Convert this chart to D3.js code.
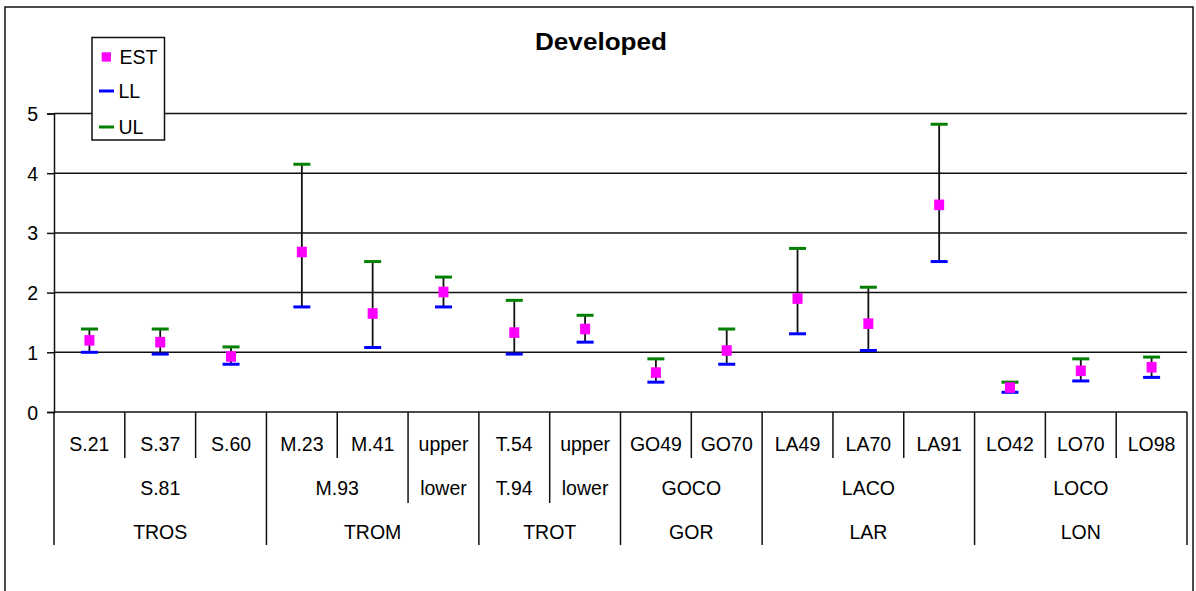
<!DOCTYPE html>
<html><head><meta charset="utf-8">
<script src="https://cdn.jsdelivr.net/npm/d3@7"></script>
<style>body{margin:0;background:#fff;} text{font-family:"Liberation Sans",Arial,sans-serif;}</style>
</head><body>
<svg id="c" width="1196" height="591"></svg>
<script>
const level1 = ["S.21","S.37","S.60","M.23","M.41","upper","T.54","upper","GO49","GO70","LA49","LA70","LA91","LO42","LO70","LO98"];
const level2 = ["S.81","S.81","S.81","M.93","M.93","lower","T.94","lower","GOCO","GOCO","LACO","LACO","LACO","LOCO","LOCO","LOCO"];
const level3 = ["TROS","TROS","TROS","TROM","TROM","TROM","TROT","TROT","GOR","GOR","LAR","LAR","LAR","LON","LON","LON"];
const est = [1.20,1.17,0.93,2.68,1.65,2.01,1.33,1.39,0.66,1.03,1.90,1.48,3.47,0.41,0.69,0.75];
const ll  = [1.00,0.97,0.80,1.76,1.08,1.76,0.97,1.17,0.50,0.80,1.31,1.03,2.52,0.33,0.52,0.58];
const ul  = [1.39,1.39,1.09,4.15,2.52,2.26,1.87,1.62,0.89,1.39,2.74,2.09,4.82,0.50,0.89,0.92];
const yTicks = [0,1,2,3,4,5];
const seriesNames = ["EST","LL","UL"];
const seriesColors = ["#FF00FF","#0000FF","#008000"];

const svg = d3.select("#c");
const L=54, R=1187, T=113.5, B=412;
const keys = level1.map((d,i)=>i);
const x = d3.scaleBand().domain(keys).range([L,R]);
const y = d3.scaleLinear().domain([0,5]).range([B,T]);
const ink = "#111";
const FS = 19.5;

// outer frame
svg.append("rect").attr("x",5).attr("y",7).attr("width",1188).attr("height",600)
  .attr("fill","none").attr("stroke",ink).attr("stroke-width",1.5);

// title
svg.append("text").attr("x",601).attr("y",50).attr("text-anchor","middle")
  .attr("font-size",24).attr("font-weight","bold").attr("fill","#000")
  .attr("textLength",132).attr("lengthAdjust","spacingAndGlyphs").text("Developed");

// gridlines
svg.append("g").selectAll("line").data(yTicks.filter(d=>d>0)).join("line")
  .attr("x1",L).attr("x2",R).attr("y1",d=>y(d)).attr("y2",d=>y(d))
  .attr("stroke",ink).attr("stroke-width",1.5);

// y axis
const ya = svg.append("g").attr("transform",`translate(${L},0)`)
  .call(d3.axisLeft(y).tickValues(yTicks).tickSize(7).tickPadding(9).tickFormat(d3.format("d")));
ya.select(".domain").attr("stroke",ink).attr("stroke-width",1.5);
ya.selectAll(".tick line").attr("stroke",ink).attr("stroke-width",1.5);
ya.selectAll("text").attr("font-size",FS).attr("fill","#000").attr("dy","0.36em")
  .attr("font-family","Liberation Sans, Arial, sans-serif");

// baseline
svg.append("line").attr("x1",L).attr("x2",R).attr("y1",B).attr("y2",B).attr("stroke",ink).attr("stroke-width",1.5);

// category table
const row1=458, row2=503, row3=545;
const tbl = svg.append("g");
const bounds = d3.range(17);
tbl.selectAll("line.sep").data(bounds).join("line")
  .attr("x1",i=>i<16?x(i):R).attr("x2",i=>i<16?x(i):R)
  .attr("y1",B)
  .attr("y2",i=>{
    if(i===0||i===16) return row3;
    if(level3[i]!==level3[i-1]) return row3;
    if(level2[i]!==level2[i-1]) return row2;
    return row1;
  })
  .attr("stroke",ink).attr("stroke-width",1.5);

tbl.selectAll("text.l1").data(keys).join("text")
  .attr("x",i=>x(i)+x.bandwidth()/2).attr("y",451).attr("text-anchor","middle")
  .attr("font-size",FS).attr("fill","#000").text(i=>level1[i]);

function spans(arr){
  const out=[]; let s=0;
  for(let i=1;i<=arr.length;i++){
    if(i===arr.length||arr[i]!==arr[i-1]||level3[i]!==level3[i-1]){out.push({label:arr[s],a:s,b:i-1});s=i;}
  }
  return out;
}
tbl.selectAll("text.l2").data(spans(level2)).join("text")
  .attr("x",d=>(x(d.a)+x(d.b)+x.bandwidth())/2).attr("y",495).attr("text-anchor","middle")
  .attr("font-size",FS).attr("fill","#000").text(d=>d.label);
tbl.selectAll("text.l3").data(spans(level3)).join("text")
  .attr("x",d=>(x(d.a)+x(d.b)+x.bandwidth())/2).attr("y",539).attr("text-anchor","middle")
  .attr("font-size",FS).attr("fill","#000").text(d=>d.label);

// error bars
const cx = i=>x(i)+x.bandwidth()/2;
const g = svg.append("g");
g.selectAll("line.v").data(keys).join("line")
  .attr("x1",cx).attr("x2",cx).attr("y1",i=>y(ll[i])).attr("y2",i=>y(ul[i]))
  .attr("stroke",ink).attr("stroke-width",1.8);
g.selectAll("line.u").data(keys).join("line")
  .attr("x1",i=>cx(i)-8.5).attr("x2",i=>cx(i)+8.5).attr("y1",i=>y(ul[i])).attr("y2",i=>y(ul[i]))
  .attr("stroke",seriesColors[2]).attr("stroke-width",3);
g.selectAll("line.l").data(keys).join("line")
  .attr("x1",i=>cx(i)-8.5).attr("x2",i=>cx(i)+8.5).attr("y1",i=>y(ll[i])).attr("y2",i=>y(ll[i]))
  .attr("stroke",seriesColors[1]).attr("stroke-width",3);
g.selectAll("rect.e").data(keys).join("rect")
  .attr("x",i=>cx(i)-5).attr("y",i=>y(est[i])-5.3).attr("width",10).attr("height",10.6)
  .attr("fill",seriesColors[0]);

// legend
const lg = svg.append("g");
lg.append("rect").attr("x",92).attr("y",37.5).attr("width",72.5).attr("height",102.5)
  .attr("fill","#fff").attr("stroke",ink).attr("stroke-width",1.5);
const ly=[57,91,127];
seriesNames.forEach((n,k)=>{
  if(k===0) lg.append("rect").attr("x",101.7).attr("y",ly[k]-4.7).attr("width",9.3).attr("height",9.3).attr("fill",seriesColors[k]);
  else lg.append("line").attr("x1",99).attr("x2",114).attr("y1",ly[k]).attr("y2",ly[k]).attr("stroke",seriesColors[k]).attr("stroke-width",3);
  lg.append("text").attr("x",k===0?119.5:118.5).attr("y",ly[k]+7).attr("font-size",FS).attr("fill","#000").text(n);
});
</script>
</body></html>
